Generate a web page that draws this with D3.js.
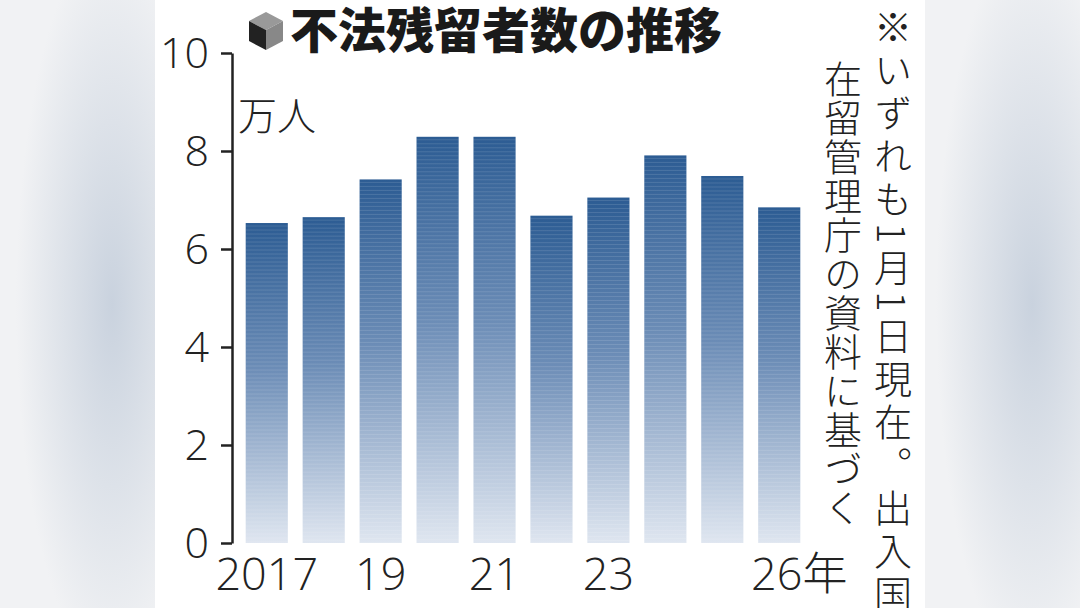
<!DOCTYPE html>
<html><head><meta charset="utf-8">
<script src="https://cdn.jsdelivr.net/npm/d3@7"></script>
<style>
body{margin:0;width:1080px;height:608px;overflow:hidden;background:#eef0f3;}
</style></head><body>
<svg id="c" width="1080" height="608"></svg>
<script>
const years=["2017","2018","2019","2020","2021","2022","2023","2024","2025","2026"];
const tickLabels=["2017","","19","","21","","23","","","26年"];
const values=[6.53,6.65,7.42,8.29,8.29,6.68,7.05,7.91,7.49,6.85];
const yTicks=[0,2,4,6,8,10];
const title="不法残留者数の推移";
const note1="※いずれも1月1日現在。出入国";
const note2="在留管理庁の資料に基づく";

const svg=d3.select("#c");
const defs=svg.append("defs");
const bg=defs.append("radialGradient").attr("id","bgL").attr("cx","0.7").attr("cy","0.5").attr("r","0.6");
bg.append("stop").attr("offset","0").attr("stop-color","#c9d2de");
bg.append("stop").attr("offset","1").attr("stop-color","#f1f2f4");
svg.append("rect").attr("x",0).attr("y",0).attr("width",160).attr("height",608).attr("fill","url(#bgL)");
svg.append("rect").attr("x",920).attr("y",0).attr("width",160).attr("height",608).attr("fill","url(#bgL)");
svg.append("rect").attr("x",155).attr("y",0).attr("width",770).attr("height",608).attr("fill","#fff");

const g=defs.append("linearGradient").attr("id","bar").attr("x1",0).attr("y1",0).attr("x2",0).attr("y2",1);
g.append("stop").attr("offset","0").attr("stop-color","#2c5c93");
g.append("stop").attr("offset","0.45").attr("stop-color","#6b8cb6");
g.append("stop").attr("offset","1").attr("stop-color","#dfe6f0");

const y=d3.scaleLinear().domain([0,10]).range([543,53]);
const x=d3.scaleBand().domain(years).range([240,806]).paddingInner(0.26).paddingOuter(0.1);

svg.append("g").selectAll("rect").data(values).join("rect")
 .attr("x",(d,i)=>x(years[i])).attr("width",x.bandwidth())
 .attr("y",d=>y(d)).attr("height",d=>y(0)-y(d))
 .attr("fill","url(#bar)");
const st=svg.append("g").attr("opacity",0.12);
values.forEach((v,i)=>{
 for(let yy=y(v)+3;yy<543;yy+=4){st.append("line").attr("x1",x(years[i])).attr("x2",x(years[i])+x.bandwidth()).attr("y1",yy).attr("y2",yy).attr("stroke","#fff").attr("stroke-width",1);}
});

const ax=svg.append("g").attr("transform","translate(232,0)")
 .call(d3.axisLeft(y).tickValues(yTicks).tickSize(11).tickSizeOuter(0).tickPadding(12));
ax.select(".domain").attr("stroke","#222").attr("stroke-width",2.5);
ax.selectAll(".tick line").attr("stroke","#222").attr("stroke-width",2.5);
ax.selectAll(".tick text").attr("font-family","'Open Sans',sans-serif").attr("font-weight",300).attr("font-size",43).attr("fill","#222").attr("dy","0.34em");

const xa=svg.append("g").attr("transform","translate(0,543)")
 .call(d3.axisBottom(x).tickSize(0).tickPadding(12).tickFormat((d,i)=>tickLabels[i]));
xa.select(".domain").remove();
xa.selectAll(".tick text").attr("font-family","'Open Sans','Noto Sans CJK JP',sans-serif").attr("font-weight",300).attr("font-size",45).attr("fill","#222").attr("dy","0.78em")
 .attr("dx",(d,i)=>i==9?"20":"0");

svg.append("text").attr("x",238).attr("y",130).text("万人").attr("font-family","'Noto Sans CJK JP'").attr("font-size",39).attr("fill","#222").attr("font-weight",300);

const ic=svg.append("g").attr("transform","translate(266,30)");
ic.append("path").attr("d","M0,-18 L17,-9 L0,0 L-17,-9Z").attr("fill","#999");
ic.append("path").attr("d","M-17,-9 L0,0 L0,20 L-17,11Z").attr("fill","#222");
ic.append("path").attr("d","M17,-9 L0,0 L0,20 L17,11Z").attr("fill","#888");
svg.append("text").attr("x",290).attr("y",48).text(title).attr("font-family","'Noto Sans CJK JP'").attr("font-weight",900).attr("font-size",48).attr("fill","#1a1a1a");

[[note1,893,8,1.5],[note2,843,60,0]].forEach(([t,xx,yy,ls])=>{
 svg.append("text").attr("x",xx).attr("y",yy).text(t).attr("writing-mode","vertical-rl")
  .attr("letter-spacing",ls==0?"1px":"5px")
  .attr("font-family","'Noto Sans CJK JP'").attr("font-size",38).attr("fill","#222").attr("font-weight",300);
});
</script></body></html>
